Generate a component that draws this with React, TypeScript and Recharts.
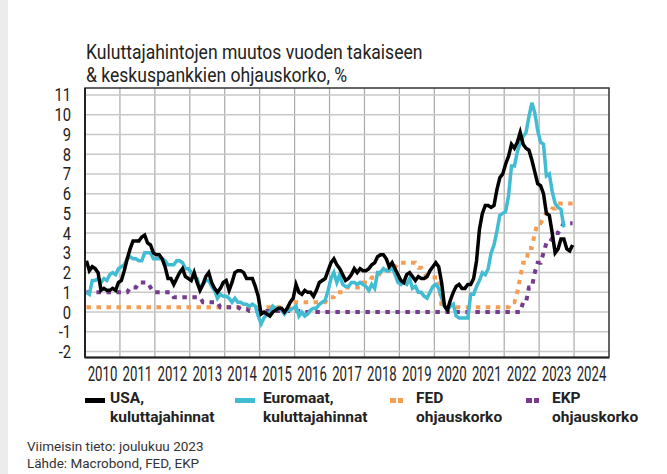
import React from "react";
import {
  LineChart,
  Line,
  XAxis,
  YAxis,
  CartesianGrid,
  ReferenceArea,
} from "recharts";

const years = [
  2010, 2011, 2012, 2013, 2014, 2015, 2016, 2017, 2018, 2019, 2020, 2021,
  2022, 2023, 2024,
];
const yTicks = [-2, -1, 0, 1, 2, 3, 4, 5, 6, 7, 8, 9, 10, 11];

// monthly values, Jan 2010 -> Dec 2023
const usaCpi = [
  2.6, 2.1, 2.3, 2.2, 2.0, 1.1, 1.2, 1.1, 1.1, 1.2, 1.1, 1.5,
  1.6, 2.1, 2.7, 3.2, 3.6, 3.6, 3.6, 3.8, 3.9, 3.5, 3.4, 3.0,
  2.9, 2.9, 2.7, 2.3, 1.7, 1.7, 1.4, 1.7, 2.0, 2.2, 1.8, 1.7,
  1.6, 2.0, 1.5, 1.1, 1.4, 1.8, 2.0, 1.5, 1.2, 1.0, 1.2, 1.5,
  1.6, 1.1, 1.5, 2.0, 2.1, 2.1, 2.0, 1.7, 1.7, 1.7, 1.3, 0.8,
  -0.1, 0.0, -0.1, -0.2, 0.0, 0.1, 0.2, 0.2, 0.0, 0.2, 0.5, 0.7,
  1.4, 1.0, 0.9, 1.1, 1.0, 1.0, 0.8, 1.1, 1.5, 1.6, 1.7, 2.1,
  2.5, 2.7, 2.4, 2.2, 1.9, 1.6, 1.7, 1.9, 2.2, 2.0, 2.2, 2.1,
  2.1, 2.2, 2.4, 2.5, 2.8, 2.9, 2.9, 2.7, 2.3, 2.5, 2.2, 1.9,
  1.6, 1.5, 1.9, 2.0, 1.8, 1.6, 1.8, 1.7, 1.7, 1.8, 2.1, 2.3,
  2.5, 2.3, 1.5, 0.3, 0.1, 0.6, 1.0, 1.3, 1.4, 1.2, 1.2, 1.4,
  1.4, 1.7, 2.6, 4.2, 5.0, 5.4, 5.4, 5.3, 5.4, 6.2, 6.8, 7.0,
  7.5, 7.9, 8.5, 8.3, 8.6, 9.1, 8.5, 8.3, 8.2, 7.7, 7.1, 6.5,
  6.4, 6.0, 5.0, 4.9, 4.0, 3.0, 3.2, 3.7, 3.7, 3.2, 3.1, 3.4,
];

// Jan 2010 -> Sep 2023
const euroCpi = [
  1.0, 0.9, 1.6, 1.6, 1.7, 1.5, 1.7, 1.6, 1.9, 2.0, 1.9, 2.2,
  2.3, 2.4, 2.7, 2.8, 2.7, 2.7, 2.6, 2.6, 3.0, 3.0, 3.0, 2.7,
  2.7, 2.7, 2.7, 2.6, 2.4, 2.4, 2.4, 2.6, 2.6, 2.5, 2.2, 2.2,
  2.0, 1.8, 1.7, 1.2, 1.4, 1.6, 1.6, 1.3, 1.1, 0.7, 0.9, 0.8,
  0.8, 0.7, 0.5, 0.7, 0.5, 0.5, 0.4, 0.4, 0.3, 0.4, 0.3, -0.2,
  -0.6, -0.3, -0.1, 0.0, 0.3, 0.2, 0.2, 0.1, -0.1, 0.1, 0.1, 0.2,
  0.3, -0.2, 0.0, -0.2, -0.1, 0.1, 0.2, 0.2, 0.4, 0.5, 0.6, 1.1,
  1.7, 2.0, 1.5, 1.9, 1.4, 1.3, 1.3, 1.5, 1.5, 1.4, 1.5, 1.4,
  1.3, 1.1, 1.4, 1.2, 2.0, 2.0, 2.2, 2.1, 2.1, 2.3, 1.9, 1.5,
  1.4, 1.5, 1.4, 1.7, 1.2, 1.3, 1.0, 1.0, 0.8, 0.7, 1.0, 1.3,
  1.4, 1.2, 0.7, 0.3, 0.1, 0.3, 0.4, -0.2, -0.3, -0.3, -0.3, -0.3,
  0.9, 0.9, 1.3, 1.6, 2.0, 1.9, 2.2, 3.0, 3.4, 4.1, 4.9, 5.0,
  5.1, 5.9, 7.4, 7.4, 8.1, 8.6, 8.9, 9.1, 9.9, 10.6, 10.1, 9.2,
  8.6, 8.5, 6.9, 7.0, 6.1, 5.5, 5.3, 5.2, 4.3,
];

const fedRate = [
  0.25, 0.25, 0.25, 0.25, 0.25, 0.25, 0.25, 0.25, 0.25, 0.25, 0.25, 0.25,
  0.25, 0.25, 0.25, 0.25, 0.25, 0.25, 0.25, 0.25, 0.25, 0.25, 0.25, 0.25,
  0.25, 0.25, 0.25, 0.25, 0.25, 0.25, 0.25, 0.25, 0.25, 0.25, 0.25, 0.25,
  0.25, 0.25, 0.25, 0.25, 0.25, 0.25, 0.25, 0.25, 0.25, 0.25, 0.25, 0.25,
  0.25, 0.25, 0.25, 0.25, 0.25, 0.25, 0.25, 0.25, 0.25, 0.25, 0.25, 0.25,
  0.25, 0.25, 0.25, 0.25, 0.25, 0.25, 0.25, 0.25, 0.25, 0.25, 0.25, 0.5,
  0.5, 0.5, 0.5, 0.5, 0.5, 0.5, 0.5, 0.5, 0.5, 0.5, 0.5, 0.75,
  0.75, 0.75, 1.0, 1.0, 1.0, 1.25, 1.25, 1.25, 1.25, 1.25, 1.25, 1.5,
  1.5, 1.5, 1.75, 1.75, 1.75, 2.0, 2.0, 2.0, 2.25, 2.25, 2.25, 2.5,
  2.5, 2.5, 2.5, 2.5, 2.5, 2.5, 2.25, 2.25, 2.0, 1.75, 1.75, 1.75,
  1.75, 1.75, 0.25, 0.25, 0.25, 0.25, 0.25, 0.25, 0.25, 0.25, 0.25, 0.25,
  0.25, 0.25, 0.25, 0.25, 0.25, 0.25, 0.25, 0.25, 0.25, 0.25, 0.25, 0.25,
  0.25, 0.25, 0.5, 0.5, 1.0, 1.75, 2.5, 2.5, 3.25, 3.25, 4.0, 4.5,
  4.5, 4.75, 5.0, 5.0, 5.25, 5.25, 5.5, 5.5, 5.5, 5.5, 5.5, 5.5,
];

const ecbRate = [
  1.0, 1.0, 1.0, 1.0, 1.0, 1.0, 1.0, 1.0, 1.0, 1.0, 1.0, 1.0,
  1.0, 1.0, 1.0, 1.25, 1.25, 1.25, 1.5, 1.5, 1.5, 1.5, 1.25, 1.0,
  1.0, 1.0, 1.0, 1.0, 1.0, 1.0, 0.75, 0.75, 0.75, 0.75, 0.75, 0.75,
  0.75, 0.75, 0.75, 0.75, 0.5, 0.5, 0.5, 0.5, 0.5, 0.5, 0.25, 0.25,
  0.25, 0.25, 0.25, 0.25, 0.25, 0.15, 0.15, 0.15, 0.05, 0.05, 0.05, 0.05,
  0.05, 0.05, 0.05, 0.05, 0.05, 0.05, 0.05, 0.05, 0.05, 0.05, 0.05, 0.05,
  0.05, 0.05, 0, 0, 0, 0, 0, 0, 0, 0, 0, 0,
  0, 0, 0, 0, 0, 0, 0, 0, 0, 0, 0, 0,
  0, 0, 0, 0, 0, 0, 0, 0, 0, 0, 0, 0,
  0, 0, 0, 0, 0, 0, 0, 0, 0, 0, 0, 0,
  0, 0, 0, 0, 0, 0, 0, 0, 0, 0, 0, 0,
  0, 0, 0, 0, 0, 0, 0, 0, 0, 0, 0, 0,
  0, 0, 0, 0, 0, 0, 0.5, 0.5, 1.25, 1.25, 2.0, 2.5,
  2.5, 3.0, 3.5, 3.5, 3.75, 4.0, 4.0, 4.25, 4.5, 4.5, 4.5, 4.5,
];

const data = usaCpi.map((usa, i) => ({
  t: years[0] + (i + 0.5) / 12,
  usa,
  euro: i < euroCpi.length ? euroCpi[i] : null,
  fed: fedRate[i],
  ecb: ecbRate[i],
}));

const labelTicks = years.map((y) => y + 0.5);
const yearLines = years.slice(1);

const font = "Roboto, 'Liberation Sans', sans-serif";
const textColor = "#222";

const colors = {
  usa: "#000000",
  euro: "#41bcd2",
  fed: "#f59d52",
  ecb: "#763a8f",
};

function YearTick(props: any) {
  const { x, y, payload } = props;
  return (
    <g transform={`translate(${x},${y + 9.5})`}>
      <text
        transform="scale(0.66,1)"
        textAnchor="middle"
        dy="0.71em"
        fontSize={20}
        fill={textColor}
        fontFamily={font}
      >
        {Math.floor(payload.value)}
      </text>
    </g>
  );
}

function ValueTick(props: any) {
  const { x, y, payload } = props;
  return (
    <g transform={`translate(${x - 14},${y})`}>
      <text
        transform="scale(0.82,1)"
        textAnchor="end"
        dy="0.36em"
        fontSize={18}
        fill={textColor}
        fontFamily={font}
      >
        {payload.value}
      </text>
    </g>
  );
}

const legendItems = [
  { key: "usa", line1: "USA,", line2: "kuluttajahinnat", x: 85, dotted: false },
  { key: "euro", line1: "Euromaat,", line2: "kuluttajahinnat", x: 235, dotted: false },
  { key: "fed", line1: "FED", line2: "ohjauskorko", x: 390, dotted: true },
  { key: "ecb", line1: "EKP", line2: "ohjauskorko", x: 526, dotted: true },
];

function Legend() {
  return (
    <>
      {legendItems.map((item) => {
        const color = (colors as any)[item.key];
        return (
          <div key={item.key}>
            {item.dotted ? (
              <>
                <div style={{ position: "absolute", left: item.x, top: 398, width: 5.5, height: 5, background: color }} />
                <div style={{ position: "absolute", left: item.x + 7.5, top: 398, width: 5.5, height: 5, background: color }} />
              </>
            ) : (
              <div style={{ position: "absolute", left: item.x, top: 398, width: 20, height: 4.5, background: color }} />
            )}
            <div
              style={{
                position: "absolute",
                left: item.x + (item.dotted ? 26 : 25) + (item.key === "euro" ? 3 : 0),
                top: 389,
                fontFamily: font,
                fontWeight: 700,
                fontSize: 15.5,
                lineHeight: "19px",
                color: textColor,
                whiteSpace: "nowrap",
              }}
            >
              {item.line1}
              <br />
              {item.line2}
            </div>
          </div>
        );
      })}
    </>
  );
}

export default function App() {
  return (
    <div
      style={{
        position: "fixed",
        left: 0,
        top: 0,
        width: 667,
        height: 474,
        background: "#fff",
        overflow: "hidden",
      }}
    >
      <div style={{ position: "absolute", left: 0, top: 0, width: 8, height: 474, background: "#ececec" }} />
      <div
        style={{
          position: "absolute",
          left: 86,
          top: 41,
          fontFamily: font,
          fontSize: 19.5,
          lineHeight: "23px",
          color: textColor,
          whiteSpace: "nowrap",
          transform: "scaleX(0.9)",
          transformOrigin: "left top",
        }}
      >
        Kuluttajahintojen muutos vuoden takaiseen
        <br />& keskuspankkien ohjauskorko, %
      </div>

      <div style={{ position: "absolute", left: 0, top: 0 }}>
        <LineChart
          width={667}
          height={474}
          data={data}
          margin={{ top: 88, right: 58, left: 25, bottom: 86.5 }}
        >
          <CartesianGrid
            horizontal={false}
            verticalValues={yearLines}
            stroke="#a9a9a9"
            strokeWidth={1.2}
          />
          <CartesianGrid
            vertical={false}
            horizontalValues={yTicks}
            stroke="#c8c8c8"
            strokeWidth={1.5}
          />
          <XAxis
            dataKey="t"
            type="number"
            domain={[2010, 2025]}
            ticks={labelTicks}
            interval={0}
            tick={<YearTick />}
            tickLine={false}
            tickSize={0}
            tickMargin={0}
            axisLine={{ stroke: "#222", strokeWidth: 2 }}
            height={30}
            allowDataOverflow
          />
          <YAxis
            type="number"
            domain={[-2.3, 11.35]}
            ticks={yTicks}
            interval={0}
            tick={<ValueTick />}
            tickLine={false}
            tickSize={0}
            tickMargin={0}
            axisLine={{ stroke: "#222", strokeWidth: 2 }}
            width={60}
            allowDataOverflow
          />
          <ReferenceArea
            x1={2010}
            x2={2025}
            y1={-2.3}
            y2={11.35}
            fill="none"
            stroke="#333"
            strokeWidth={1.5}
            ifOverflow="visible"
          />
          <Line
            type="linear"
            dataKey="fed"
            stroke={colors.fed}
            strokeWidth={4}
            strokeDasharray="4.5 5.5"
            dot={false}
            isAnimationActive={false}
          />
          <Line
            type="linear"
            dataKey="ecb"
            stroke={colors.ecb}
            strokeWidth={4}
            strokeDasharray="4.5 5.5"
            dot={false}
            isAnimationActive={false}
          />
          <Line
            type="linear"
            dataKey="euro"
            stroke={colors.euro}
            strokeWidth={3.5}
            dot={false}
            isAnimationActive={false}
          />
          <Line
            type="linear"
            dataKey="usa"
            stroke={colors.usa}
            strokeWidth={3.5}
            dot={false}
            isAnimationActive={false}
          />
        </LineChart>
      </div>

      <Legend />

      <div
        style={{
          position: "absolute",
          left: 27,
          top: 438,
          fontFamily: font,
          fontSize: 13.5,
          lineHeight: "17px",
          color: "#333",
          whiteSpace: "nowrap",
        }}
      >
        Viimeisin tieto: joulukuu 2023
        <br />
        Lähde: Macrobond, FED, EKP
      </div>
    </div>
  );
}
